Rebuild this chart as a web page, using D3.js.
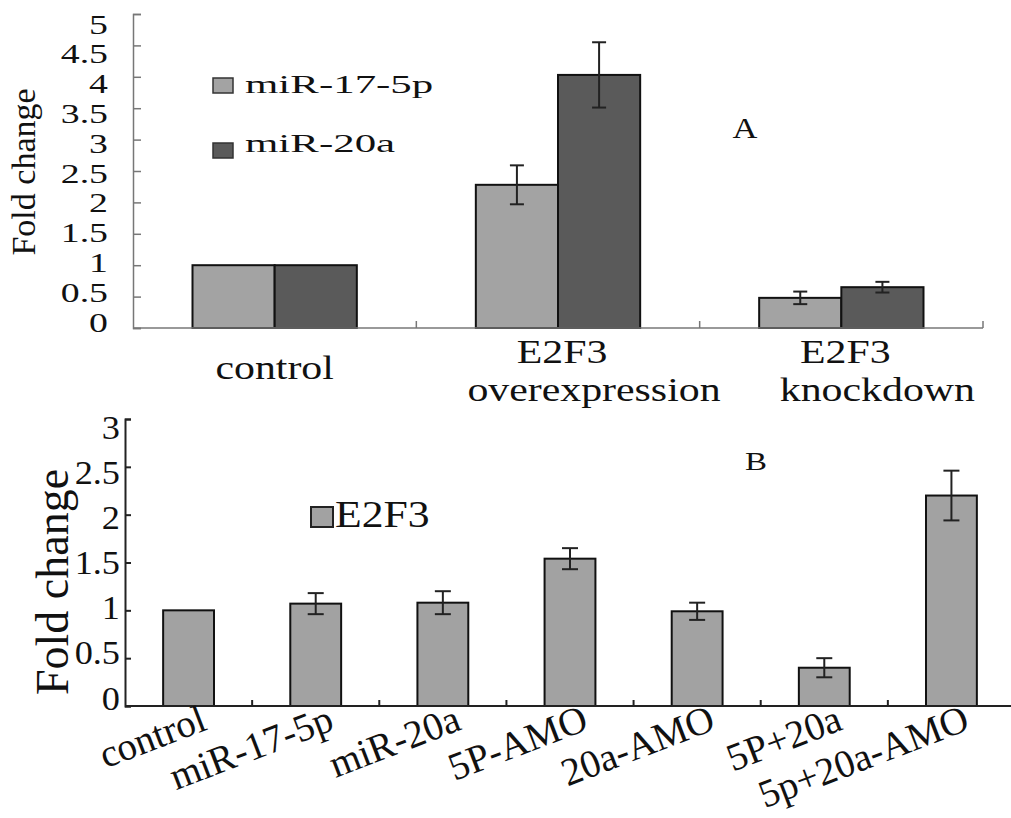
<!DOCTYPE html>
<html>
<head>
<meta charset="utf-8">
<script src="https://cdn.jsdelivr.net/npm/d3@7/dist/d3.min.js"></script>
<style>
  body { margin: 0; background: #fff; }
  svg { display: block; }
  text { font-family: "Liberation Serif", "Times New Roman", serif; fill: #111; }
</style>
</head>
<body>
<svg id="chart" width="1011" height="818"></svg>
<script>
// ---- panel A data ----
const groupsA = [["control"], ["E2F3", "overexpression"], ["E2F3", "knockdown"]];
const seriesA = ["miR-17-5p", "miR-20a"];
const mir17 = [1, 2.28, 0.48];
const mir17Err = [0, 0.31, 0.10];
const mir20 = [1, 4.03, 0.65];
const mir20Err = [0, 0.52, 0.085];
const ticksA = [0, 0.5, 1, 1.5, 2, 2.5, 3, 3.5, 4, 4.5, 5];

// ---- panel B data ----
const groupsB = ["control", "miR-17-5p", "miR-20a", "5P-AMO", "20a-AMO", "5P+20a", "5p+20a-AMO"];
const e2f3 = [1, 1.07, 1.08, 1.54, 0.99, 0.40, 2.20];
const e2f3Err = [0, 0.11, 0.12, 0.11, 0.09, 0.10, 0.26];
const ticksB = [0, 0.5, 1, 1.5, 2, 2.5, 3];

const colorsA = ["#a3a3a3", "#5a5a5a"];
const colorB = "#a2a2a2";

const svg = d3.select("#chart");

// text that is wider than the font draws it (the figure is stretched sideways)
function wideText(g, x, y, str, size, sx, anchor) {
    return g.append("text")
        .attr("transform", `translate(${x},${y}) scale(${sx},1)`)
        .attr("text-anchor", anchor)
        .style("font-size", size + "px")
        .text(str);
}

function errorBar(g, cx, yScale, v, e, cap) {
    if (!e) return;
    g.append("line").attr("x1", cx).attr("x2", cx)
        .attr("y1", yScale(v + e)).attr("y2", yScale(v - e));
    [v + e, v - e].forEach(t => {
        g.append("line").attr("x1", cx - cap / 2).attr("x2", cx + cap / 2)
            .attr("y1", yScale(t)).attr("y2", yScale(t));
    });
}

// =================== Panel A ===================
const gA = svg.append("g");
const xA = d3.scaleBand().domain(d3.range(groupsA.length)).range([133, 983])
    .paddingInner(0.42).paddingOuter(0.21);
const subA = d3.scaleBand().domain(seriesA).range([0, xA.bandwidth()]);
const yA = d3.scaleLinear().domain([0, 5]).range([328, 14]);
// the tick labels sit on a slightly tighter scale than the ticks
const yLabA = d3.scaleLinear().domain([0, 5]).range([322, 24]);

const valuesA = [mir17, mir20];
const errsA = [mir17Err, mir20Err];

seriesA.forEach((s, si) => {
    gA.append("g").selectAll("rect")
        .data(valuesA[si])
        .join("rect")
        .attr("x", (d, i) => xA(i) + subA(s))
        .attr("y", d => yA(d))
        .attr("width", subA.bandwidth())
        .attr("height", d => yA(0) - yA(d))
        .attr("fill", colorsA[si])
        .attr("stroke", "#111")
        .attr("stroke-width", 2);
});

const errA = gA.append("g").attr("stroke", "#222").attr("stroke-width", 2);
seriesA.forEach((s, si) => {
    valuesA[si].forEach((v, i) => {
        errorBar(errA, xA(i) + subA(s) + subA.bandwidth() / 2, yA, v, errsA[si][i], 14);
    });
});

// y axis with inward ticks
const axA = gA.append("g").attr("transform", "translate(133,0)")
    .call(d3.axisLeft(yA).tickValues(ticksA).tickSize(-8).tickFormat(""));
axA.selectAll("path, line").attr("stroke", "#777").attr("stroke-width", 1.5);

ticksA.forEach(t => {
    wideText(gA, 108, yLabA(t) + 9.5, d3.format("")(t), 27, 1.4, "end");
});

// x axis baseline + upward ticks at the group boundaries
gA.append("line").attr("x1", xA.range()[0]).attr("x2", xA.range()[1])
    .attr("y1", yA(0)).attr("y2", yA(0))
    .attr("stroke", "#777").attr("stroke-width", 1.5);
gA.append("g").selectAll("line")
    .data(d3.range(1, groupsA.length + 1))
    .join("line")
    .attr("x1", k => xA.range()[0] + k * xA.step())
    .attr("x2", k => xA.range()[0] + k * xA.step())
    .attr("y1", yA(0)).attr("y2", yA(0) - 7)
    .attr("stroke", "#777").attr("stroke-width", 1.5);

groupsA.forEach((lines, i) => {
    const cx = xA(i) + xA.bandwidth() / 2;
    if (lines.length === 1) {
        wideText(gA, cx, 379, lines[0], 34, 1.23, "middle");
    } else {
        wideText(gA, cx + 4, 363, lines[0], 34, 1.23, "middle");
        wideText(gA, cx + 36, 401, lines[1], 34, 1.23, "middle");
    }
});

gA.append("text")
    .attr("transform", "translate(35,172) rotate(-90)")
    .attr("text-anchor", "middle")
    .style("font-size", "34px")
    .text("Fold  change");

// legend A
const legA = gA.append("g");
const legYA = [78, 143];
seriesA.forEach((s, si) => {
    legA.append("rect").attr("x", 213).attr("y", legYA[si])
        .attr("width", 20).attr("height", 15)
        .attr("fill", colorsA[si]).attr("stroke", "#333").attr("stroke-width", 1.5);
    wideText(legA, 245, legYA[si] + (si === 0 ? 15 : 9), s, 26, 1.65, "start");
});

wideText(gA, 745, 138, "A", 30, 1.15, "middle");

// =================== Panel B ===================
const gB = svg.append("g");
const xB = d3.scaleBand().domain(groupsB).range([125, 1015])
    .paddingInner(0.6).paddingOuter(0.3);
const yB = d3.scaleLinear().domain([0, 3]).range([706, 419]);
const yLabB = d3.scaleLinear().domain([0, 3]).range([698, 427]);

gB.append("g").selectAll("rect")
    .data(e2f3)
    .join("rect")
    .attr("x", (d, i) => xB(groupsB[i]))
    .attr("y", d => yB(d))
    .attr("width", xB.bandwidth())
    .attr("height", d => yB(0) - yB(d))
    .attr("fill", colorB)
    .attr("stroke", "#111")
    .attr("stroke-width", 2);

const errB = gB.append("g").attr("stroke", "#222").attr("stroke-width", 2);
e2f3.forEach((v, i) => {
    errorBar(errB, xB(groupsB[i]) + xB.bandwidth() / 2, yB, v, e2f3Err[i], 16);
});

const axB = gB.append("g").attr("transform", "translate(125,0)")
    .call(d3.axisLeft(yB).tickValues(ticksB).tickSize(-6).tickFormat(""));
axB.selectAll("path, line").attr("stroke", "#222").attr("stroke-width", 2);

ticksB.forEach(t => {
    wideText(gB, 120, yLabB(t) + 11.5, d3.format("")(t), 33, 1.1, "end");
});

gB.append("line").attr("x1", xB.range()[0]).attr("x2", xB.range()[1])
    .attr("y1", yB(0)).attr("y2", yB(0))
    .attr("stroke", "#222").attr("stroke-width", 2);
gB.append("g").selectAll("line")
    .data(d3.range(1, groupsB.length))
    .join("line")
    .attr("x1", k => xB.range()[0] + k * xB.step())
    .attr("x2", k => xB.range()[0] + k * xB.step())
    .attr("y1", yB(0)).attr("y2", yB(0) - 6)
    .attr("stroke", "#222").attr("stroke-width", 2);

groupsB.forEach(name => {
    const cx = xB(name) + xB.bandwidth() / 2 + 20;
    gB.append("text")
        .attr("transform", `translate(${cx},729) rotate(-21)`)
        .attr("text-anchor", "end")
        .style("font-size", "39px")
        .text(name);
});

gB.append("text")
    .attr("transform", "translate(68,582) rotate(-90)")
    .attr("text-anchor", "middle")
    .style("font-size", "46px")
    .text("Fold change");

// legend B
gB.append("rect").attr("x", 311).attr("y", 507).attr("width", 22).attr("height", 20)
    .attr("fill", colorB).attr("stroke", "#222").attr("stroke-width", 2);
wideText(gB, 335, 527, "E2F3", 38, 1.15, "start");

wideText(gB, 756, 470, "B", 26, 1.27, "middle");
</script>
</body>
</html>
